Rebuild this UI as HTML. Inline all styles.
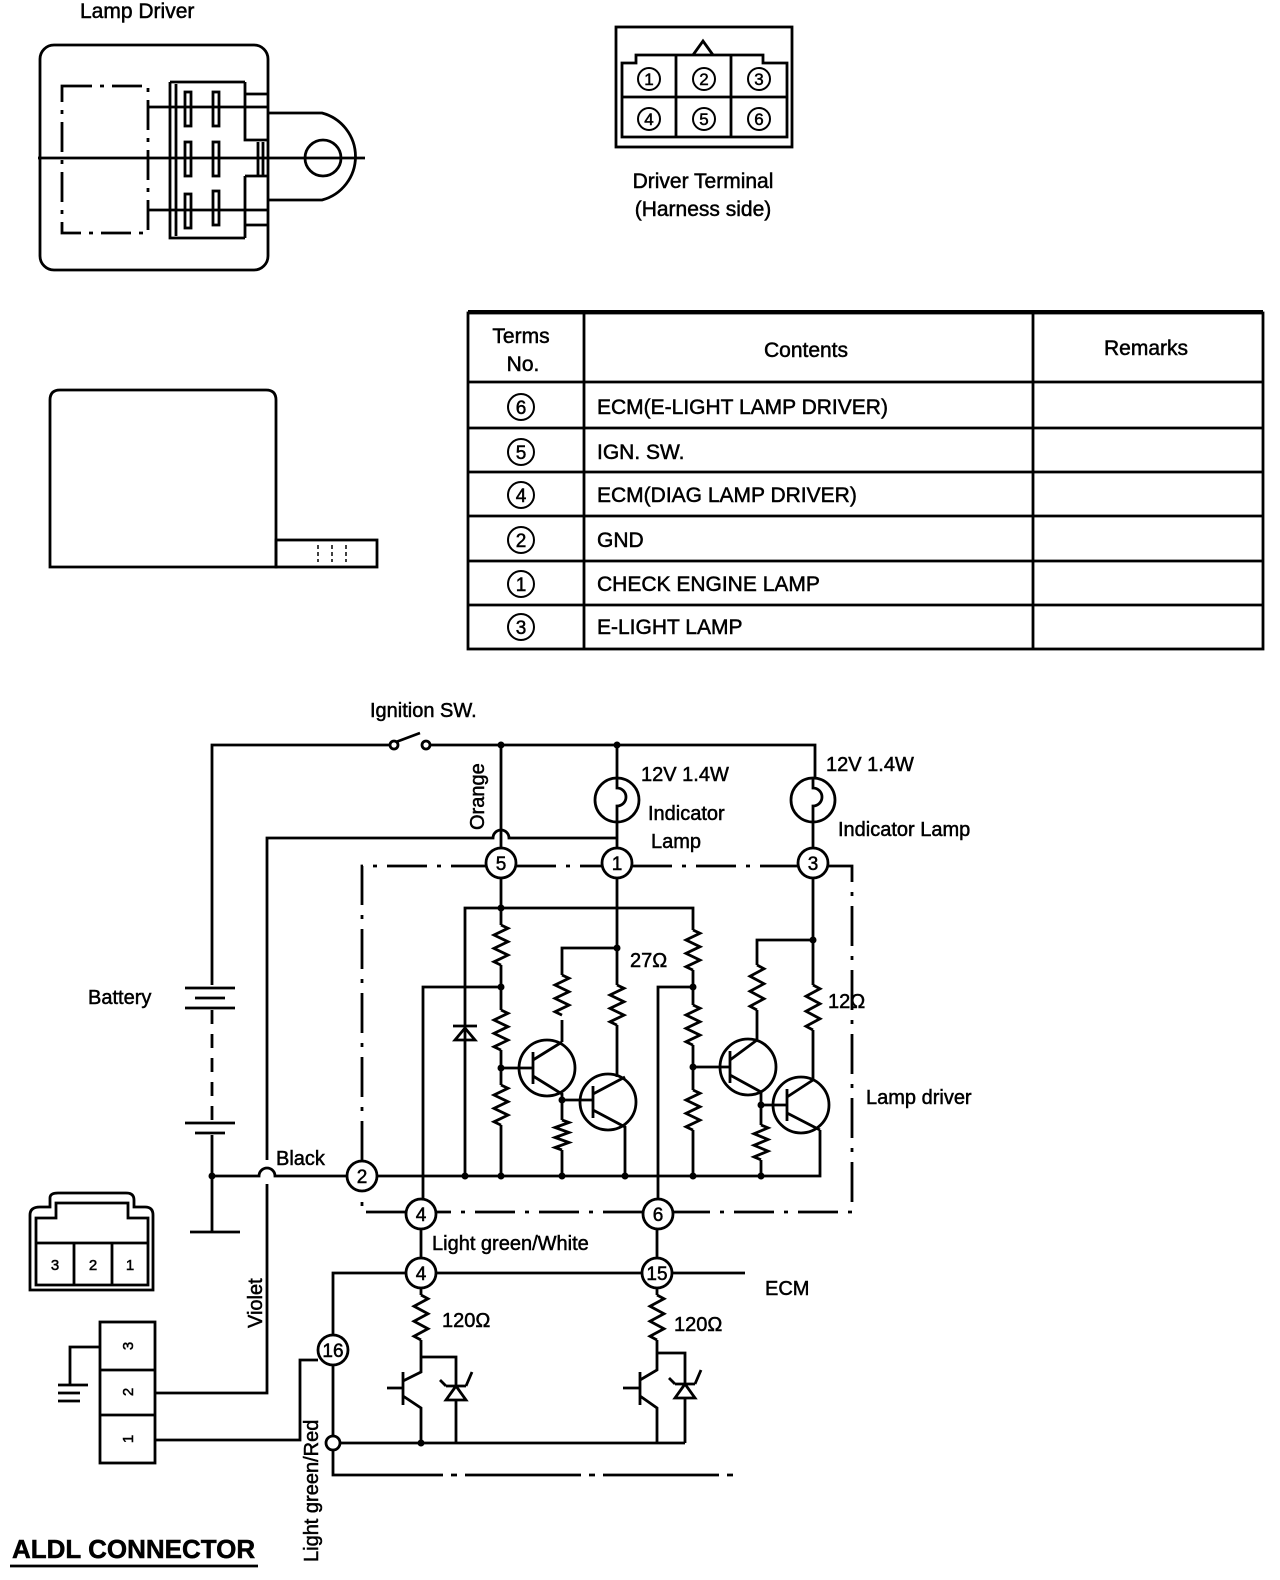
<!DOCTYPE html>
<html><head><meta charset="utf-8"><style>
html,body{margin:0;padding:0;background:#fff;overflow:hidden}
svg{display:block}
text{font-family:"Liberation Sans",sans-serif;fill:#000;stroke:#000;stroke-width:0.5}
</style></head><body>
<svg width="1280" height="1580" viewBox="0 0 1280 1580" xmlns="http://www.w3.org/2000/svg">
<g fill="none" stroke="#000" stroke-width="2.8">
<!-- Lamp driver top view -->
<rect x="40" y="45" width="228" height="225" rx="14"/>
<rect x="62" y="86" width="86" height="147" stroke-dasharray="30 8 4 8"/>
<path d="M170 82 H245 M170 82 V238 H245 M176 84 V236"/>
<path d="M148 107 H268 M148 210 H268 M38 158 H365"/>
<path d="M268 113 H322 A45 45 0 0 1 322 200 H268"/>
<circle cx="323" cy="158" r="18"/>
<path d="M245 82 V94 H268 M245 94 V140 H268 M245 176 V238 M245 176 H268 M245 225 H268"/>
<path d="M258 142 V175 M263 142 V175"/>
<rect x="185" y="92" width="6" height="34"/><rect x="213" y="92" width="6" height="34"/>
<rect x="185" y="142" width="6" height="34"/><rect x="213" y="142" width="6" height="34"/>
<rect x="185" y="194" width="6" height="34"/><rect x="213" y="191" width="6" height="34"/>
<!-- side view -->
<path d="M50 567 V400 Q50 390 60 390 H266 Q276 390 276 400 V567 Z"/>
<rect x="276" y="540" width="101" height="27"/>
<path d="M318 545 V562 M332 545 V562 M346 545 V562" stroke-width="1.5" stroke-dasharray="4 3"/>
<!-- terminal -->
<rect x="616" y="27" width="176" height="120"/>
<path d="M622 137 V63 H636 V55 H663 L703 55 H763 V63 H787 V137 Z"/>
<path d="M622 97 H787 M676 55 V137 M731 55 V137 M693 55 L703 41 L713 55"/>
<g stroke-width="2">
<circle cx="649" cy="79" r="11"/><circle cx="704" cy="79" r="11"/><circle cx="759" cy="79" r="11"/>
<circle cx="649" cy="119" r="11"/><circle cx="704" cy="119" r="11"/><circle cx="759" cy="119" r="11"/>
<circle cx="521" cy="407" r="13"/><circle cx="521" cy="452" r="13"/><circle cx="521" cy="495" r="13"/>
<circle cx="521" cy="540" r="13"/><circle cx="521" cy="584" r="13"/><circle cx="521" cy="627" r="13"/>
</g>
<!-- table -->
<rect x="468" y="313" width="795" height="336"/>
<path d="M468 312 H1263" stroke-width="4"/>
<path d="M584 313 V649 M1033 313 V649 M468 382 H1263 M468 428 H1263 M468 472 H1263 M468 516 H1263 M468 561 H1263 M468 605 H1263"/>
</g>
<g font-size="21">
<text x="80" y="18">Lamp Driver</text>
<text x="703" y="188" text-anchor="middle">Driver Terminal</text>
<text x="703" y="216" text-anchor="middle">(Harness side)</text>
<g font-size="17" text-anchor="middle">
<text x="649" y="85">1</text><text x="704" y="85">2</text><text x="759" y="85">3</text>
<text x="649" y="125">4</text><text x="704" y="125">5</text><text x="759" y="125">6</text>
</g>
<text x="521" y="343" text-anchor="middle">Terms</text><text x="523" y="371" text-anchor="middle">No.</text>
<text x="806" y="357" text-anchor="middle">Contents</text>
<text x="1146" y="355" text-anchor="middle">Remarks</text>
<g font-size="19" text-anchor="middle"><text x="521" y="414">6</text><text x="521" y="459">5</text><text x="521" y="502">4</text><text x="521" y="547">2</text><text x="521" y="591">1</text><text x="521" y="634">3</text></g>
<text x="597" y="414">ECM(E-LIGHT LAMP DRIVER)</text>
<text x="597" y="459">IGN. SW.</text>
<text x="597" y="502">ECM(DIAG LAMP DRIVER)</text>
<text x="597" y="547">GND</text>
<text x="597" y="591">CHECK ENGINE LAMP</text>
<text x="597" y="634">E-LIGHT LAMP</text>
</g>
<!-- circuit -->
<g fill="none" stroke="#000" stroke-width="2.8">
<path d="M212 985 V745 H390 M430 745 H815 V778"/>
<circle cx="394" cy="745" r="4"/><circle cx="426" cy="745" r="4"/><path d="M396 742 L420 733"/>
<path d="M617 745 V778 M617 822 V848 M813 822 V848"/>
<circle cx="617" cy="800" r="22"/><circle cx="813" cy="800" r="22"/>
<path d="M617 778 V788 A8 8 0 0 1 617 806 V822 M813 778 V788 A8 8 0 0 1 813 806 V822"/>
<path d="M501 745 V848"/>
<path d="M267 1160 V838 H493 A8 8 0 0 1 509 838 H617"/>
<path d="M185 988 H235 M195 998 H225 M185 1008 H235"/>
<path d="M212 1010 V1120" stroke-dasharray="14 10"/>
<path d="M185 1123 H235 M195 1133 H225 M212 1135 V1232 M190 1232 H240"/>
<path d="M212 1176 H259 A8 8 0 0 1 275 1176 H347 M267 1184 V1393 H155"/>
<!-- dash-dot box -->
<path d="M362 1161 V866 H486 M516 866 H602 M632 866 H798 M828 866 H852 V1212 H673 M643 1212 H436 M406 1212 H362 V1191" stroke-dasharray="40 10 4 10"/>
<circle cx="501" cy="863" r="15"/><circle cx="617" cy="863" r="15"/><circle cx="813" cy="863" r="15"/>
<circle cx="362" cy="1176" r="15"/><circle cx="421" cy="1214" r="15"/><circle cx="658" cy="1214" r="15"/>
<!-- internal -->
<path d="M377 1176 H820 V1130"/>
<path d="M501 878 V925 M501 965 V1010 M501 1050 V1085 M501 1125 V1176"/>
<path d="M501 925 l7 3.3 l-14 6.7 l14 6.7 l-14 6.7 l14 6.7 l-14 6.7 l7 3.3"/>
<path d="M501 1010 l7 3.3 l-14 6.7 l14 6.7 l-14 6.7 l14 6.7 l-14 6.7 l7 3.3"/>
<path d="M501 1085 l7 3.3 l-14 6.7 l14 6.7 l-14 6.7 l14 6.7 l-14 6.7 l7 3.3"/>
<path d="M465 1176 V908 H693 V930 M693 970 V1005 M693 1045 V1090 M693 1130 V1176"/>
<path d="M693 930 l7 3.3 l-14 6.7 l14 6.7 l-14 6.7 l14 6.7 l-14 6.7 l7 3.3"/>
<path d="M693 1005 l7 3.3 l-14 6.7 l14 6.7 l-14 6.7 l14 6.7 l-14 6.7 l7 3.3"/>
<path d="M693 1090 l7 3.3 l-14 6.7 l14 6.7 l-14 6.7 l14 6.7 l-14 6.7 l7 3.3"/>
<path d="M453 1026 H477 M465 1028 L455 1040 H475 Z"/>
<path d="M501 987 H423 V1199 M693 987 H658 V1199"/>
<path d="M617 878 V985 M617 1025 V1077 M617 948 H562 V975 M562 1020 V1042"/>
<path d="M617 985 l7 3.3 l-14 6.7 l14 6.7 l-14 6.7 l14 6.7 l-14 6.7 l7 3.3"/>
<path d="M562 975 l7 3.3 l-14 6.7 l14 6.7 l-14 6.7 l14 6.7 l-14 6.7 l7 3.3"/>
<circle cx="547" cy="1068" r="28"/><circle cx="608" cy="1102" r="28"/>
<path d="M501 1068 H533 M533 1052 V1084 M533 1060 L562 1042 M533 1076 L562 1094 V1120 M562 1150 V1176 M562 1100 H593"/>
<path d="M562 1120 l7 2.5 l-14 5 l14 5 l-14 5 l14 5 l-14 5 l7 2.5"/>
<path d="M593 1086 V1118 M593 1094 L625 1077 M593 1110 L625 1127 V1176"/>
<path d="M813 878 V985 M813 1030 V1080 M813 940 H757 V965 M757 1010 V1040"/>
<path d="M813 985 l7 3.75 l-14 7.5 l14 7.5 l-14 7.5 l14 7.5 l-14 7.5 l7 3.75"/>
<path d="M757 965 l7 3.75 l-14 7.5 l14 7.5 l-14 7.5 l14 7.5 l-14 7.5 l7 3.75"/>
<circle cx="748" cy="1067" r="28"/><circle cx="801" cy="1105" r="28"/>
<path d="M693 1067 H730 M730 1051 V1083 M730 1060 L757 1040 M730 1075 L761 1092 V1125 M761 1160 V1176 M761 1105 H787"/>
<path d="M761 1125 l7 2.9 l-14 5.8 l14 5.8 l-14 5.8 l14 5.8 l-14 5.8 l7 2.9"/>
<path d="M787 1089 V1121 M787 1097 L813 1080 M787 1113 L820 1130"/>
<!-- lower ECM -->
<path d="M421 1229 V1258 M657 1229 V1258"/>
<circle cx="421" cy="1273" r="15"/><circle cx="657" cy="1273" r="15"/><circle cx="333" cy="1350" r="15"/>
<path d="M333 1335 V1273 H406 M436 1273 H642 M672 1273 H745"/>
<path d="M421 1288 V1295 M421 1340 V1357 H456 V1385 M456 1400 V1443 M421 1357 V1372 L403 1381 M403 1372 V1405 M387 1388 H403 M403 1396 L421 1408 V1443"/>
<path d="M421 1295 l7 3.75 l-14 7.5 l14 7.5 l-14 7.5 l14 7.5 l-14 7.5 l7 3.75"/>
<path d="M446 1386 H466 M456 1386 L446 1400 H466 Z M446 1386 L440 1380 M466 1386 L472 1372"/>
<path d="M657 1288 V1295 M657 1340 V1353 H685 V1383 M685 1398 V1443 M657 1353 V1370 L640 1380 M640 1372 V1405 M623 1388 H640 M640 1396 L657 1408 V1443"/>
<path d="M657 1295 l7 3.75 l-14 7.5 l14 7.5 l-14 7.5 l14 7.5 l-14 7.5 l7 3.75"/>
<path d="M675 1384 H695 M685 1384 L675 1398 H695 Z M675 1384 L669 1378 M695 1384 L701 1370"/>
<path d="M340 1443 H685 M333 1365 V1436 M333 1450 V1475 H735" />
<path d="M333 1475 H735" stroke="#fff" stroke-width="3" stroke-dasharray="0 110 8 6 8 6"/>
<circle cx="333" cy="1443" r="7"/>
<!-- ALDL -->
<path d="M30 1290 V1215 Q30 1207 40 1207 H50 V1198 Q50 1193 58 1193 H126 Q134 1193 134 1200 V1207 H145 Q153 1207 153 1215 V1290 Z"/>
<path d="M36 1285 V1218 H56 V1203 H128 V1218 H148 V1285 Z M36 1243 H148 M74 1243 V1285 M112 1243 V1285"/>
<rect x="100" y="1322" width="55" height="141"/>
<path d="M100 1370 H155 M100 1415 H155"/>
<path d="M100 1347 H70 V1385 M58 1385 H88 M58 1393 H80 M58 1401 H80"/>
<path d="M155 1440 H300 V1360 H318"/>
<path d="M10 1566 H258"/>
</g>
<g fill="#000">
<circle cx="501" cy="745" r="3.5"/><circle cx="617" cy="745" r="3.5"/><circle cx="212" cy="1176" r="3.5"/>
<circle cx="501" cy="908" r="3.5"/><circle cx="617" cy="948" r="3.5"/><circle cx="813" cy="940" r="3.5"/>
<circle cx="501" cy="987" r="3.5"/><circle cx="693" cy="987" r="3.5"/><circle cx="501" cy="1068" r="3.5"/><circle cx="693" cy="1067" r="3.5"/>
<circle cx="562" cy="1100" r="3.5"/><circle cx="761" cy="1105" r="3.5"/>
<circle cx="465" cy="1176" r="3.5"/><circle cx="501" cy="1176" r="3.5"/><circle cx="562" cy="1176" r="3.5"/><circle cx="625" cy="1176" r="3.5"/><circle cx="693" cy="1176" r="3.5"/><circle cx="761" cy="1176" r="3.5"/>
<circle cx="421" cy="1443" r="3.5"/>
</g>
<g font-size="20">
<text x="370" y="717">Ignition SW.</text>
<text x="641" y="781">12V 1.4W</text>
<text x="648" y="820">Indicator</text>
<text x="651" y="848">Lamp</text>
<text x="826" y="771">12V 1.4W</text>
<text x="838" y="836">Indicator Lamp</text>
<text x="630" y="967">27Ω</text>
<text x="828" y="1008">12Ω</text>
<text x="866" y="1104">Lamp driver</text>
<text x="88" y="1004">Battery</text>
<text x="276" y="1165">Black</text>
<text x="432" y="1250">Light green/White</text>
<text x="765" y="1295">ECM</text>
<text x="442" y="1327">120Ω</text>
<text x="674" y="1331">120Ω</text>
<text transform="translate(484 830) rotate(-90)">Orange</text>
<text transform="translate(262 1328) rotate(-90)">Violet</text>
<text transform="translate(318 1562) rotate(-90)">Light green/Red</text>
<g font-size="19" text-anchor="middle">
<text x="501" y="870">5</text><text x="617" y="870">1</text><text x="813" y="870">3</text>
<text x="362" y="1183">2</text><text x="421" y="1221">4</text><text x="658" y="1221">6</text>
<text x="421" y="1280">4</text><text x="657" y="1280">15</text><text x="333" y="1357">16</text>
</g>
<g font-size="15" text-anchor="middle">
<text x="55" y="1270">3</text><text x="93" y="1270">2</text><text x="130" y="1270">1</text>
<text transform="translate(133 1346) rotate(-90)">3</text>
<text transform="translate(133 1392) rotate(-90)">2</text>
<text transform="translate(133 1439) rotate(-90)">1</text>
</g>
<text x="12" y="1558" font-size="26" font-weight="bold">ALDL CONNECTOR</text>
</g>
</svg>
</body></html>
